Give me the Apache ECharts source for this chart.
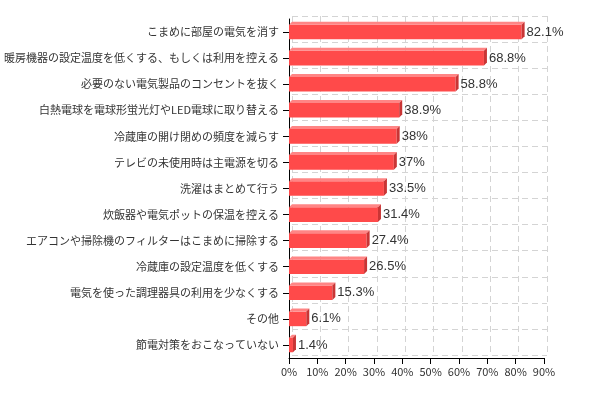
<!DOCTYPE html>
<html>
<head>
<meta charset="utf-8">
<script src="https://cdn.jsdelivr.net/npm/echarts@6/dist/echarts.min.js"></script>
<style>
  html, body { margin: 0; padding: 0; background: #fff; }
  #contain { width: 598px; height: 398px; }
</style>
</head>
<body>
<div id="contain"></div>
<script>
// 項目（上から順）
var categories = [
    'こまめに部屋の電気を消す',
    '暖房機器の設定温度を低くする、もしくは利用を控える',
    '必要のない電気製品のコンセントを抜く',
    '白熱電球を電球形蛍光灯やLED電球に取り替える',
    '冷蔵庫の開け閉めの頻度を減らす',
    'テレビの未使用時は主電源を切る',
    '洗濯はまとめて行う',
    '炊飯器や電気ポットの保温を控える',
    'エアコンや掃除機のフィルターはこまめに掃除する',
    '冷蔵庫の設定温度を低くする',
    '電気を使った調理器具の利用を少なくする',
    'その他',
    '節電対策をおこなっていない'
];
var values = [82.1, 68.8, 58.8, 38.9, 38, 37, 33.5, 31.4, 27.4, 26.5, 15.3, 6.1, 1.4];
var xTicks = [0, 10, 20, 30, 40, 50, 60, 70, 80, 90];

var seriesData = [];
$each = function (arr, fn) { for (var i = 0; i < arr.length; i++) fn(i, arr[i]); };
$each(values, function (i, v) {
    seriesData.push([v, i]);
});

var depth = 3;

function renderBar(params, api) {
    var val = api.value(0);
    var idx = api.value(1);
    var start = api.coord([0, idx]);
    var end = api.coord([val, idx]);
    var band = api.size([0, 1])[1];
    var h = band * 0.56;
    var x0 = start[0], x1 = end[0];
    var y0 = start[1] - h / 2, y1 = start[1] + h / 2;
    return {
        type: 'group',
        children: [{
            type: 'rect',
            shape: { x: x0, y: y0, width: x1 - x0, height: h },
            style: { fill: '#ff4a4a' }
        }, {
            type: 'polygon',
            shape: { points: [[x0, y0], [x1, y0], [x1 + depth, y0 - depth], [x0 + depth, y0 - depth]] },
            style: { fill: '#ff8585' }
        }, {
            type: 'polygon',
            shape: { points: [[x1, y0], [x1 + depth, y0 - depth], [x1 + depth, y1 - depth], [x1, y1]] },
            style: { fill: '#c93535' }
        }, {
            type: 'text',
            style: {
                x: x1 + depth + 2,
                y: start[1],
                text: val + '%',
                fill: '#333',
                fontSize: 13,
                fontFamily: 'Liberation Sans, Arial, sans-serif',
                verticalAlign: 'middle',
                align: 'left'
            }
        }]
    };
}

var labelFont = '"Noto Sans CJK JP", sans-serif';

var option = {
    animation: false,
    grid: [{
        left: 292, right: 51, top: 16, bottom: 43
    }, {
        left: 289, right: 54, top: 19, bottom: 40
    }],
    xAxis: [{
        gridIndex: 0,
        type: 'value', min: 0, max: 90, interval: 10,
        axisLine: { show: false }, axisTick: { show: false }, axisLabel: { show: false },
        splitLine: { show: true, lineStyle: { color: '#d4d4d4', type: [6, 4] } }
    }, {
        gridIndex: 1,
        type: 'value', min: 0, max: 90, interval: 10,
        axisLine: { show: true, lineStyle: { color: '#000', width: 1 } },
        axisTick: { show: true, length: 6, lineStyle: { color: '#000' } },
        axisLabel: {
            margin: 8, color: '#333', fontSize: 11, fontFamily: labelFont,
            formatter: function (v) { return xTicks.indexOf(v) > -1 ? v + '%' : ''; }
        },
        splitLine: { show: false }
    }],
    yAxis: [{
        gridIndex: 0,
        type: 'category', inverse: true, data: categories,
        axisLine: { show: false }, axisTick: { show: false }, axisLabel: { show: false },
        splitLine: { show: true, lineStyle: { color: '#d4d4d4', type: [6, 4] } }
    }, {
        gridIndex: 1,
        type: 'category', inverse: true, data: categories,
        axisLine: { show: true, lineStyle: { color: '#000', width: 1 } },
        axisTick: { show: true, alignWithLabel: true, length: 6, lineStyle: { color: '#000' } },
        axisLabel: { margin: 10, color: '#333', fontSize: 11, fontFamily: labelFont },
        splitLine: { show: false }
    }],
    series: [{
        type: 'custom',
        xAxisIndex: 1,
        yAxisIndex: 1,
        renderItem: renderBar,
        encode: { x: 0, y: 1 },
        data: seriesData
    }]
};

var myChart = echarts.init(document.getElementById('contain'));
myChart.setOption(option);
</script>
</body>
</html>
